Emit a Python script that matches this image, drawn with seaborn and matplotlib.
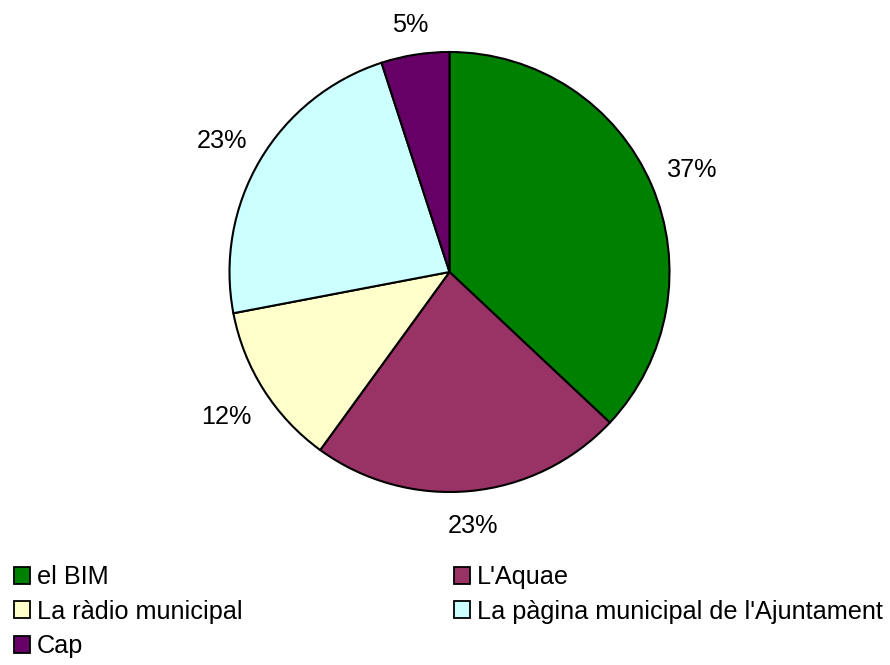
import numpy as np
import matplotlib.pyplot as plt
import matplotlib.patches as mpatches
import seaborn as sns

categories = ["el BIM", "L'Aquae", "La ràdio municipal",
              "La pàgina municipal de l'Ajuntament", "Cap"]
values = [37, 23, 12, 23, 5]
colors = ["#008000", "#993366", "#FFFFCC", "#CCFFFF", "#660066"]

sns.set_theme(style="white")
plt.rcParams['font.family'] = ['Liberation Sans', 'DejaVu Sans']
plt.rcParams['text.color'] = 'black'

fig = plt.figure(figsize=(8.9, 6.65), dpi=100)
ax = fig.add_axes([229.5 / 890, 1 - 492 / 665, 440 / 890, 440 / 665])

wedges, texts = ax.pie(values, colors=colors, startangle=90, counterclock=False,
                       labels=[f"{v}%" for v in values], labeldistance=1.18,
                       wedgeprops=dict(edgecolor='black', linewidth=1.5))
# push labels out a bit more on the sides, like Excel does
for w, t in zip(wedges, texts):
    ang = np.deg2rad((w.theta1 + w.theta2) / 2)
    d = 1.14 + 0.07 * abs(np.cos(ang))
    t.set_position((d * np.cos(ang), d * np.sin(ang) - 0.015))
    t.set_fontsize(18.2)
    t.set_color('black')
    t.set_ha('center')
    t.set_va('center')
ax.set_xlim(-1, 1)
ax.set_ylim(-1, 1)
ax.set_aspect('equal')

handles = [mpatches.Patch(facecolor=c, edgecolor='black', linewidth=1.3) for c in colors]
leg_kw = dict(frameon=False, fontsize=18.2, handlelength=0.65, handleheight=0.65,
              handletextpad=0.25, labelspacing=0.42, borderpad=0, borderaxespad=0,
              labelcolor='black')
fig.legend([handles[0], handles[2], handles[4]],
           [categories[0], categories[2], categories[4]],
           loc='upper left', bbox_to_anchor=(14 / 890, 1 - 565 / 665), **leg_kw)
fig.legend([handles[1], handles[3]], [categories[1], categories[3]],
           loc='upper left', bbox_to_anchor=(454 / 890, 1 - 565 / 665), **leg_kw)

fig.savefig("out.png", dpi=100)
